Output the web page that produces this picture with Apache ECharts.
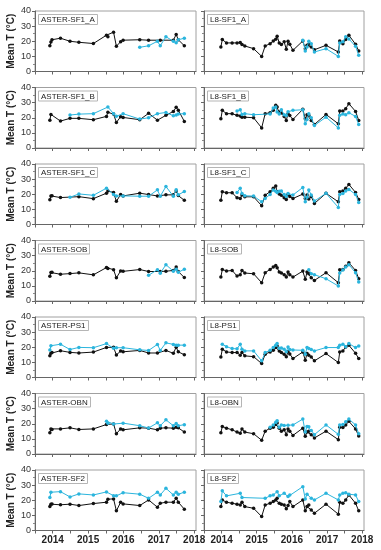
<!DOCTYPE html>
<html><head><meta charset="utf-8">
<script src="https://cdn.jsdelivr.net/npm/echarts@6/dist/echarts.min.js"></script>
<style>html,body{margin:0;padding:0;background:#fff}#c{width:381px;height:550px}</style>
</head><body><div id="c"></div>
<script>
const xTickLabels = [2014, 2015, 2016, 2017, 2018];
const yTickLabels = [0, 10, 20, 30, 40];
const asterDates = [2013.92, 2013.95, 2013.98, 2014.22, 2014.49, 2014.74, 2015.15, 2015.52, 2015.56, 2015.72, 2015.80, 2015.92, 2015.99, 2016.46, 2016.71, 2016.96, 2017.04, 2017.20, 2017.41, 2017.49, 2017.55, 2017.72];
const l8Dates = [2013.98, 2014.02, 2014.14, 2014.30, 2014.44, 2014.53, 2014.58, 2014.66, 2014.91, 2015.14, 2015.24, 2015.38, 2015.47, 2015.54, 2015.58, 2015.64, 2015.70, 2015.78, 2015.84, 2015.89, 2015.94, 2016.03, 2016.31, 2016.38, 2016.43, 2016.48, 2016.55, 2016.64, 2016.97, 2017.32, 2017.36, 2017.45, 2017.53, 2017.62, 2017.81, 2017.90];

const asterNames = ['ASTER-SF1_A', 'ASTER-SF1_B', 'ASTER-SF1_C', 'ASTER-SOB', 'ASTER-PS1', 'ASTER-OBN', 'ASTER-SF2'];
const l8Names = ['L8-SF1_A', 'L8-SF1_B', 'L8-SF1_C', 'L8-SOB', 'L8-PS1', 'L8-OBN', 'L8-SF2'];

const n = null;
// ASTER panels
const asterSF1A_black = [17, 19.5, 21, 22, 20, 19.3, 18.5, 24, 23, 26, 16.7, 19.7, 20.7, 21, 20.7, n, 20.7, n, 20.7, 24.5, 21, 17];
const asterSF1A_cyan  = [n, n, n, n, n, n, n, n, n, n, n, n, n, 16, 17, 20, 17, 23, 20, 19, 21, 22];
const asterSF1B_black = [18.4, 22.2, n, 17.8, 19.6, 19.6, 18.7, 20.9, 23.6, 22.4, 16.9, 20.7, 20.2, 18.7, 22.9, 18.4, n, 21.6, 24.2, 26.9, 25, 17.6];
const asterSF1B_cyan  = [n, n, n, n, 21.8, 22.4, 22.7, n, 27.1, 22.7, 21, n, 22.7, 19.1, 20, 22.7, n, 23.5, 21.3, 21.8, 22.5, 22.7];
const asterSF1C_black = [16.4, 18.9, 19, 17.8, n, 18.4, 17.1, 20.7, 22.2, 21.1, 15.3, 19.8, 18.9, 20.7, 19.8, 18.9, n, 19.6, 19.6, 22.2, 19.1, 16];
const asterSF1C_cyan  = [n, n, n, n, 18, 20.2, 19.3, 24, n, 19.8, 18.9, n, 18.9, 18.7, 18.7, 22.9, 18.7, 25.1, 18.7, 23, 19.6, 21.8];
const asterSOB_black  = [16.4, 18.8, 19, 17.7, 18.1, 18.6, 17.3, 22.1, 21.5, 20.7, 15.3, 19.9, 19.6, 20.8, 19.5, n, 19.5, 19.7, 20.2, 22.5, 19.5, 15.5];
const asterSOB_cyan   = [n, n, n, n, n, n, n, n, n, n, n, n, n, n, 17, 20.7, 18.4, 24, 19.7, 21, 19, 21];
const asterPS1_black  = [14.4, 16, 16.5, 17.7, 16.6, 16.2, 16.8, 19.9, n, 20, 14.9, 17.5, 17, 17.9, 16.2, 16.2, n, 17.9, 16, 20, 17, 15];
const asterPS1_cyan   = [18.1, 21, n, 22, 18.5, 19.9, 19.7, 22.4, n, 19.3, 19.7, n, 19.7, 18.3, 17.9, 21.9, 17.9, 22.9, 21.9, 21.4, 21.4, 21.4];
const asterOBN_black  = [14.1, 16.6, 16.2, 16.6, 17.3, 16.2, 16.6, 19.5, n, 19.9, 13.4, 16.6, 16, 17.3, 17.1, 16, 17.1, 17.3, 17.1, 17.7, 17.3, 14.5];
const asterOBN_cyan   = [n, n, n, n, n, n, n, 21.7, 20.4, 19.8, n, n, 20.4, 18.7, 17.2, 20.6, 18.7, 22.6, 18.7, 20.2, 18.7, 19.4];
const asterSF2_black  = [15.8, 17.4, 17.6, 17, 17.4, 16.5, 17.8, 18.7, 20.7, 20.9, 13, 18.7, 17.6, 16.5, 20.2, 15.4, 18, 18.7, 18.7, 21.3, 18.7, 14.1];
const asterSF2_cyan   = [21.8, 25.3, n, 25.7, 22.2, 24.2, 23.5, 25.5, n, 23, 22.9, n, 25, 24, 21.3, 25.3, 23.5, 27.9, 23.5, 25.3, 24, 25.3];

// L8 panels
const l8SF1A_black = [16.2, 21.1, 18.9, 18.9, 18.9, 19.1, 17.8, 16.9, 15.1, 10, 16.9, 18.4, 20.2, 21.3, 23.3, 18.9, 17.8, 19.6, 14.7, 20, 18, 14, 20.2, 15.1, 17.3, 18, 16.2, 14.4, 17.3, 12.9, 20.2, 18.4, 21.1, 24, 18, 13.6];
const l8SF1A_cyan  = [n, n, n, n, n, n, n, n, n, n, n, n, n, n, n, n, n, n, n, n, n, n, 20.7, 13.6, 16.2, 20, 18.4, 12.9, 15.1, 10, 18.9, 19.6, 22.9, 21.5, 16.7, 10.7];
const l8SF1B_black = [19.3, 24.9, 22.7, 22.7, 21.6, 21.1, 20.4, 20.4, 20, 13.3, 22.7, 23.3, 24.9, 28.2, 27.1, 23.8, 23.1, 20.9, 18.2, 22.7, 21.5, 18.9, 25.6, 19.3, 22, 21.6, 18.2, 15.6, 22.2, 16, 24.4, 24.4, 26, 29.3, 24.2, 18.2];
const l8SF1B_cyan  = [n, n, n, n, 24.4, 25.3, 22.2, 22.7, 22, n, n, 22.5, 26.4, 27.1, 23.8, 22.5, 25.3, 22, 21.5, 24, n, 24.9, 25.3, 16, 18.9, 22.7, 20, 14.9, 20.4, 13.3, 21.6, 22.5, 22, 23.3, 20.9, 15.6];
const l8SF1C_black = [16.1, 21.7, 21, 21, 17.7, 17.2, 19.5, 18.3, 18.3, 12.4, 19.4, 21.7, 23.9, 25.4, 21.7, 20.1, 19.4, 17.7, 16.6, 19.9, 18.5, 17.2, 20.1, 17.2, 19.5, 16.8, 18.5, 13.9, 20.6, 15, 21.7, 22.1, 23.9, 26.5, 21.2, 16.6];
const l8SF1C_cyan  = [n, n, n, n, 21.2, 23.9, 20.5, 19, 18.8, 15, 17.2, 19.9, 22.8, 22, 21.2, 22, 22.1, 19.9, 18.5, 20.5, n, 19.5, 24.5, 15, 18, 22.8, 19.5, 15.5, 20.6, 11.3, 19.9, 20.5, 22.1, 23.2, 19.9, 14.6];
const l8SOB_black  = [15.8, 20.9, 19.8, 20.2, 16.5, 17.4, 20.2, 18.5, 18, 12.1, 18.7, 20.9, 22.4, 23.5, 22, 19.1, 18.5, 17.4, 15.8, 19.1, 17.4, 15.8, 19.8, 14.3, 19.1, 18, 15.4, 13.6, 18.7, 12.1, 20.7, 20.9, 22.9, 25.3, 20.2, 14.7];
const l8SOB_cyan   = [n, n, n, n, n, n, n, n, n, n, n, n, n, n, n, n, n, n, n, n, n, n, n, n, n, 20.7, 18, 17.4, 14.7, 9.9, 18.5, 20.5, 22.4, 24, 18.7, 12.5];
const l8PS1_black  = [13.6, 18.7, 16.9, 16.5, 16.5, 14.7, 16.5, 14.3, 13.8, 9.2, 15.4, 16.9, 18, 19.8, 20.9, 17.6, 16.5, 15.4, 13.8, 17.1, 15.5, 12.5, 16.9, 11.4, 15.8, 14.7, 13.5, 11, 15.8, 9.9, 16.9, 17.6, 20.2, 21.3, 16, 12.5];
const l8PS1_cyan   = [n, 22, 20.4, 19.1, 19, 22, 18.7, 17.6, 17.6, 11, 16.5, 18, 19.8, 21.3, 22.4, 19.3, 19.5, 18.7, 17.1, 20.2, 18.5, 18.2, 18, 15.4, 19.8, 19.1, 18.5, 17.6, 19.8, 19.8, 21.3, 22, 20.4, 22.4, 19.8, 20.9];
const l8OBN_black  = [14.1, 18.2, 17.1, 16, 14.5, 13.8, 16.6, 14.5, 13.4, 9.1, 15.1, 17.1, 17.7, 19.5, 20.5, 17.1, 15.1, 16, 12.8, 16.6, 15.1, 12.3, 17.1, 11.7, 14.5, 15.1, 12.8, 10.6, 15.1, 9.5, 17.7, 17.5, 19.2, 21.6, 16.6, 11.9];
const l8OBN_cyan   = [n, n, n, n, n, n, n, n, n, n, n, 17.7, 19.2, 21, 22, 17.7, 19.2, 18.8, n, 19, n, 19.2, 23.1, 14.5, 18.2, 18, 15.6, 12.8, 19.2, 13, 19.2, 19.5, 21.4, 23.1, 19.2, 13.4];
const l8SF2_black  = [15.8, 20.2, 18.7, 18, 17.4, 16.9, 18.7, 15.8, 14.7, 9.2, 16.9, 18, 19.1, 20.2, 21.3, 18, 17.4, 16.9, 14.3, 16.5, 19.1, 15.8, 20.2, 13, 15.8, 16.9, 13.6, 11.4, 17.4, 10.8, 18.7, 18, 20.2, 23.5, 18, 13];
const l8SF2_cyan   = [19.1, 26.2, 22.9, n, n, 24.6, 21.8, n, n, n, 21.3, 22.9, 23.5, n, 25.7, 22.9, n, 24.6, n, 22.4, 23.5, n, 29, 20.9, 24, n, 21.3, 20.2, 24.6, 20.2, 23.5, 24.6, 25, 24, 23.5, 19.1];

const asterBlack = [asterSF1A_black, asterSF1B_black, asterSF1C_black, asterSOB_black, asterPS1_black, asterOBN_black, asterSF2_black];
const asterCyan  = [asterSF1A_cyan, asterSF1B_cyan, asterSF1C_cyan, asterSOB_cyan, asterPS1_cyan, asterOBN_cyan, asterSF2_cyan];
const l8Black = [l8SF1A_black, l8SF1B_black, l8SF1C_black, l8SOB_black, l8PS1_black, l8OBN_black, l8SF2_black];
const l8Cyan  = [l8SF1A_cyan, l8SF1B_cyan, l8SF1C_cyan, l8SOB_cyan, l8PS1_cyan, l8OBN_cyan, l8SF2_cyan];

const BLACK = '#111111', CYAN = '#2bb5dd';
const FONT = 'Liberation Sans, Arial, sans-serif';

function pairs(dates, vals) {
  const out = [];
  for (let i = 0; i < dates.length; i++) if (vals[i] != null) out.push([dates[i], vals[i]]);
  return out;
}

const grids = [], xAxes = [], yAxes = [], series = [], titles = [];
const halfTicks = [];
for (let v = 2013.5; v <= 2018.01; v += 0.5) halfTicks.push(+v.toFixed(1));

for (let r = 0; r < 7; r++) {
  const top = 11 + r * 76.5;
  for (let c = 0; c < 2; c++) {
    const gi = grids.length;
    const left = c === 0 ? 35 : 204;
    grids.push({ left: left, top: top, width: c === 0 ? 161 : 160, height: 60.5, show: true, borderColor: '#a0a0a0', borderWidth: 1, containLabel: false });
    xAxes.push({
      gridIndex: gi, type: 'value', min: 2013.5, max: 2018.05,
      axisLine: { show: true, onZero: false, lineStyle: { color: '#666', width: 1 } },
      axisTick: { show: true, length: 3, inside: false, customValues: halfTicks, lineStyle: { color: '#666' } },
      axisLabel: { show: r === 6, customValues: xTickLabels, fontFamily: FONT, fontSize: 10, fontWeight: 'bold', color: '#222', margin: 5,
        formatter: function (v) { return String(Math.round(v)); } },
      splitLine: { show: false }
    });
    yAxes.push({
      gridIndex: gi, type: 'value', min: 0, max: 40, interval: 10,
      name: c === 0 ? 'Mean T (°C)' : '', nameLocation: 'middle', nameGap: 19,
      nameTextStyle: { fontFamily: FONT, fontSize: 10, fontWeight: 'bold', color: '#222' },
      axisLine: { show: true, lineStyle: { color: '#666', width: 1 } },
      axisTick: { show: true, length: 3, lineStyle: { color: '#666' } },
      minorTick: { show: true, splitNumber: 2, length: 2, lineStyle: { color: '#888' } },
      axisLabel: { show: c === 0, fontFamily: FONT, fontSize: 9, color: '#333', margin: 4,
        formatter: function (v) { return yTickLabels.indexOf(v) >= 0 ? String(v) : ''; } },
      splitLine: { show: false }
    });
    const dates = c === 0 ? asterDates : l8Dates;
    const bl = c === 0 ? asterBlack[r] : l8Black[r];
    const cy = c === 0 ? asterCyan[r] : l8Cyan[r];
    series.push({ type: 'line', xAxisIndex: gi, yAxisIndex: gi, data: pairs(dates, bl),
      symbol: 'circle', symbolSize: 3.5, showSymbol: true, color: BLACK,
      lineStyle: { color: BLACK, width: 1 }, itemStyle: { color: BLACK }, animation: false, z: 3 });
    series.push({ type: 'line', xAxisIndex: gi, yAxisIndex: gi, data: pairs(dates, cy),
      symbol: 'circle', symbolSize: 3.5, showSymbol: true, color: CYAN,
      lineStyle: { color: CYAN, width: 1 }, itemStyle: { color: CYAN }, animation: false, z: 4 });
    titles.push({ text: c === 0 ? asterNames[r] : l8Names[r], left: left + 3, top: top + 3,
      padding: [2, 3, 1, 3], borderColor: '#b5b5b5', borderWidth: 1, backgroundColor: '#fff',
      textStyle: { fontFamily: FONT, fontSize: 8, fontWeight: 'normal', color: '#222' } });
  }
}

const chart = echarts.init(document.getElementById('c'), null, { renderer: 'canvas' });
chart.setOption({ animation: false, backgroundColor: '#fff', title: titles, grid: grids, xAxis: xAxes, yAxis: yAxes, series: series });
</script>
</body></html>
